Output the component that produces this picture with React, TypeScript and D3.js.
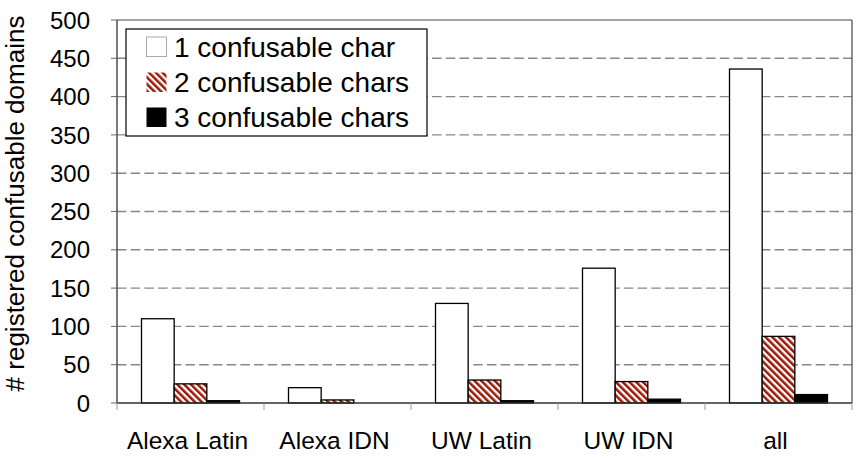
import React from "react";
import * as d3 from "d3";

const categories = ["Alexa Latin", "Alexa IDN", "UW Latin", "UW IDN", "all"];
const seriesNames = ["1 confusable char", "2 confusable chars", "3 confusable chars"];
const oneChar = [110, 20, 130, 176, 436];
const twoChars = [25, 4, 30, 28, 87];
const threeChars = [3, 0, 3, 5, 11];
const yTicks = [0, 50, 100, 150, 200, 250, 300, 350, 400, 450, 500];
const yTitle = "# registered confusable domains";

const W = 862;
const H = 458;
const L = 117, R = 852, T = 20, B = 403;
const FONT = "'Liberation Sans', Arial, Helvetica, sans-serif";
const RED = "#9c1606";

export default function App() {
  const series = [oneChar, twoChars, threeChars];
  const x0 = d3.scaleBand<string>().domain(categories).range([L, R]).padding(0);
  const x1 = d3
    .scaleBand<string>()
    .domain(seriesNames)
    .range([0, x0.bandwidth()])
    .paddingInner(0)
    .paddingOuter(0.75);
  const y = d3.scaleLinear().domain([0, 500]).range([B, T]);

  const fills = ["#ffffff", "url(#hatch)", "#000000"];
  const boundaries = categories.map((c) => x0(c) as number).concat([R]);

  return (
    <svg
      width={W}
      height={H}
      style={{ position: "absolute", left: 0, top: 0, background: "#fff" }}
      fontFamily={FONT}
    >
      <defs>
        <pattern
          id="hatch"
          patternUnits="userSpaceOnUse"
          width={4.8}
          height={4.8}
          patternTransform="rotate(-45)"
        >
          <rect x={0} y={0} width={4.8} height={4.8} fill="#fff" />
          <rect x={0} y={0} width={2.5} height={4.8} fill={RED} />
        </pattern>
      </defs>
      <rect x={0} y={0} width={W} height={H} fill="#fff" />

      {/* gridlines */}
      {yTicks
        .filter((t) => t > 0 && t < 500)
        .map((t) => (
          <line
            key={"g" + t}
            x1={L}
            x2={R}
            y1={y(t)}
            y2={y(t)}
            stroke="#888"
            strokeWidth={1.4}
            strokeDasharray="9.5,4.2"
          />
        ))}

      {/* frame top & right */}
      <line x1={L} x2={R} y1={T} y2={T} stroke="#444" strokeWidth={1.2} />
      <line x1={R} x2={R} y1={T} y2={B} stroke="#444" strokeWidth={1.2} />

      {/* bars */}
      {categories.map((c, ci) => (
        <g key={c} transform={`translate(${x0(c)},0)`}>
          {series.map((s, si) => {
            const v = s[ci];
            if (v <= 0) return null;
            return (
              <rect
                key={si}
                x={x1(seriesNames[si])}
                y={y(v)}
                width={x1.bandwidth()}
                height={B - y(v)}
                fill={fills[si]}
                stroke="#000"
                strokeWidth={1.3}
              />
            );
          })}
        </g>
      ))}

      {/* axes */}
      <line x1={L} x2={L} y1={T} y2={B} stroke="#333" strokeWidth={1.3} />
      <line x1={L} x2={R} y1={B} y2={B} stroke="#333" strokeWidth={1.3} />
      {yTicks.map((t) => (
        <g key={"yt" + t}>
          <line x1={L - 6} x2={L} y1={y(t)} y2={y(t)} stroke="#666" strokeWidth={1} />
          <text
            x={90}
            y={y(t)}
            dy="0.36em"
            textAnchor="end"
            fontSize={24}
            fill="#000"
          >
            {t}
          </text>
        </g>
      ))}
      {boundaries.map((bx, i) => (
        <line key={"xt" + i} x1={bx} x2={bx} y1={B} y2={B + 7} stroke="#999" strokeWidth={1} />
      ))}
      {categories.map((c) => (
        <text
          key={"xl" + c}
          x={(x0(c) as number) + x0.bandwidth() / 2 - 3}
          y={449}
          textAnchor="middle"
          fontSize={24.5}
          fill="#000"
        >
          {c}
        </text>
      ))}

      {/* y title */}
      <text
        transform={`translate(24,${(T + B) / 2 - 8}) rotate(-90)`}
        textAnchor="middle"
        fontSize={26}
        fill="#000"
      >
        {yTitle}
      </text>

      {/* legend */}
      <rect x={126} y={29} width={301} height={107} fill="#fff" stroke="#000" strokeWidth={1.2} />
      {seriesNames.map((n, i) => {
        const baseY = [56.5, 92, 127][i];
        return (
          <g key={"lg" + i}>
            <rect
              x={146.5}
              y={baseY - 19.5}
              width={20}
              height={19.5}
              fill={fills[i]}
              stroke={i === 0 ? "#aaa" : "none"}
              strokeWidth={1}
            />
            <text x={174} y={baseY} fontSize={28} fill="#000">
              {n}
            </text>
          </g>
        );
      })}
    </svg>
  );
}
